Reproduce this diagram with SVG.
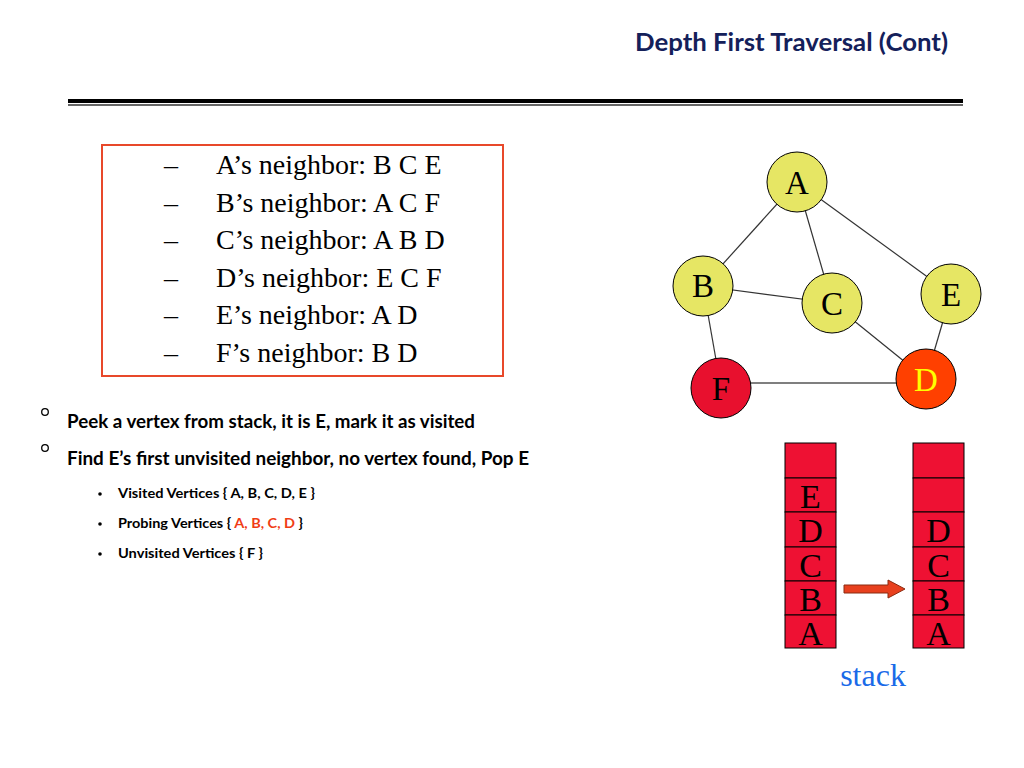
<svg xmlns="http://www.w3.org/2000/svg" width="1024" height="768" viewBox="0 0 1024 768">
<style>
.title{font-family:"Lato","Liberation Sans",sans-serif;font-weight:bold;font-size:24px;fill:#14205a}
.nb{font-family:"Liberation Serif",serif;font-size:28px;fill:#000}
.b1{font-family:"Lato","Liberation Sans",sans-serif;font-weight:bold;font-size:18px;fill:#000}
.b2{font-family:"Lato","Liberation Sans",sans-serif;font-weight:bold;font-size:13px;fill:#000}
.red{fill:#f03c14}
.node circle{stroke:#000;stroke-width:1}
.yel{fill:#e6e664}
.lbl{font-family:"Liberation Serif",serif;font-size:33px;fill:#000;text-anchor:middle}
.edges line{stroke:#333;stroke-width:1.2}
.cell{fill:#ee1133;stroke:#000;stroke-width:1}
.sl{font-family:"Liberation Serif",serif;font-size:34px;fill:#000;text-anchor:middle}
</style>
<rect width="1024" height="768" fill="#fff"/>
<text class="title" x="635" y="51" textLength="313" lengthAdjust="spacingAndGlyphs">Depth First Traversal (Cont)</text>
<rect x="68" y="99" width="895" height="4" fill="#000"/>
<rect x="68" y="104" width="895" height="2" fill="#666"/>

<g id="neighbors">
<rect x="102" y="145" width="401" height="231" fill="#fff" stroke="#e8482a" stroke-width="2"/>
<g class="nb">
<text x="164" y="174">–</text><text x="216" y="174">A’s neighbor: B C E</text>
<text x="164" y="212">–</text><text x="216" y="212">B’s neighbor: A C F</text>
<text x="164" y="249">–</text><text x="216" y="249">C’s neighbor: A B D</text>
<text x="164" y="287">–</text><text x="216" y="287">D’s neighbor: E C F</text>
<text x="164" y="324">–</text><text x="216" y="324">E’s neighbor: A D</text>
<text x="164" y="362">–</text><text x="216" y="362">F’s neighbor: B D</text>
</g>
</g>

<g id="steps">
<circle cx="45" cy="412" r="3.3" fill="none" stroke="#000" stroke-width="1.3"/>
<text class="b1" x="67" y="428" textLength="408" lengthAdjust="spacingAndGlyphs">Peek a vertex from stack, it is E, mark it as visited</text>
<circle cx="45" cy="448" r="3.3" fill="none" stroke="#000" stroke-width="1.3"/>
<text class="b1" x="67" y="465" textLength="462" lengthAdjust="spacingAndGlyphs">Find E’s first unvisited neighbor, no vertex found, Pop E</text>
<circle cx="100" cy="494" r="1.8" fill="#000"/>
<text class="b2" x="118" y="498" textLength="197" lengthAdjust="spacingAndGlyphs">Visited Vertices  { A, B, C, D, E }</text>
<circle cx="100" cy="524" r="1.8" fill="#000"/>
<text class="b2" x="118" y="528" textLength="185" lengthAdjust="spacingAndGlyphs">Probing Vertices { <tspan class="red">A, B, C, D</tspan> }</text>
<circle cx="100" cy="554" r="1.8" fill="#000"/>
<text class="b2" x="118" y="558" textLength="145" lengthAdjust="spacingAndGlyphs">Unvisited Vertices { F }</text>
</g>

<g id="edges" class="edges">
<line x1="797" y1="182" x2="703" y2="286"/>
<line x1="797" y1="182" x2="832" y2="303"/>
<line x1="797" y1="182" x2="951" y2="294"/>
<line x1="703" y1="286" x2="832" y2="303"/>
<line x1="703" y1="286" x2="721" y2="388"/>
<line x1="832" y1="303" x2="926" y2="379"/>
<line x1="951" y1="294" x2="926" y2="379"/>
<line x1="721" y1="383" x2="926" y2="383" style="stroke:#555;stroke-width:1.5"/>
</g>

<g id="node-A" class="node"><circle class="yel" cx="797" cy="182" r="30"/><text class="lbl" x="797" y="194">A</text></g>
<g id="node-B" class="node"><circle class="yel" cx="703" cy="286" r="30"/><text class="lbl" x="703" y="297">B</text></g>
<g id="node-C" class="node"><circle class="yel" cx="832" cy="303" r="30"/><text class="lbl" x="832" y="315">C</text></g>
<g id="node-E" class="node"><circle class="yel" cx="951" cy="294" r="30"/><text class="lbl" x="951" y="306">E</text></g>
<g id="node-F" class="node"><circle cx="721" cy="388" r="30" fill="#e8102e"/><text class="lbl" x="721" y="400">F</text></g>
<g id="node-D" class="node"><circle cx="926" cy="379" r="30" fill="#ff4000"/><text class="lbl" x="926" y="391" style="fill:#ffff00">D</text></g>

<g id="stack-before">
<rect class="cell" x="785" y="443" width="51" height="35"/>
<rect class="cell" x="785" y="478" width="51" height="34"/>
<rect class="cell" x="785" y="512" width="51" height="35"/>
<rect class="cell" x="785" y="547" width="51" height="34"/>
<rect class="cell" x="785" y="581" width="51" height="34"/>
<rect class="cell" x="785" y="615" width="51" height="33"/>
<text class="sl" x="810.5" y="508">E</text>
<text class="sl" x="810.5" y="542">D</text>
<text class="sl" x="810.5" y="577">C</text>
<text class="sl" x="810.5" y="611">B</text>
<text class="sl" x="810.5" y="645">A</text>
</g>

<g id="arrow">
<polygon points="844,585 888,585 888,580 905,589 888,598 888,593 844,593" fill="#e8401e" stroke="#8a2a10" stroke-width="1"/>
</g>

<g id="stack-after">
<rect class="cell" x="913" y="443" width="51" height="35"/>
<rect class="cell" x="913" y="478" width="51" height="34"/>
<rect class="cell" x="913" y="512" width="51" height="35"/>
<rect class="cell" x="913" y="547" width="51" height="34"/>
<rect class="cell" x="913" y="581" width="51" height="34"/>
<rect class="cell" x="913" y="615" width="51" height="33"/>
<text class="sl" x="938.5" y="542">D</text>
<text class="sl" x="938.5" y="577">C</text>
<text class="sl" x="938.5" y="611">B</text>
<text class="sl" x="938.5" y="645">A</text>
</g>

<text x="873" y="686" style="font-family:'Liberation Serif',serif;font-size:32px;fill:#1a6ae8;text-anchor:middle">stack</text>
</svg>
